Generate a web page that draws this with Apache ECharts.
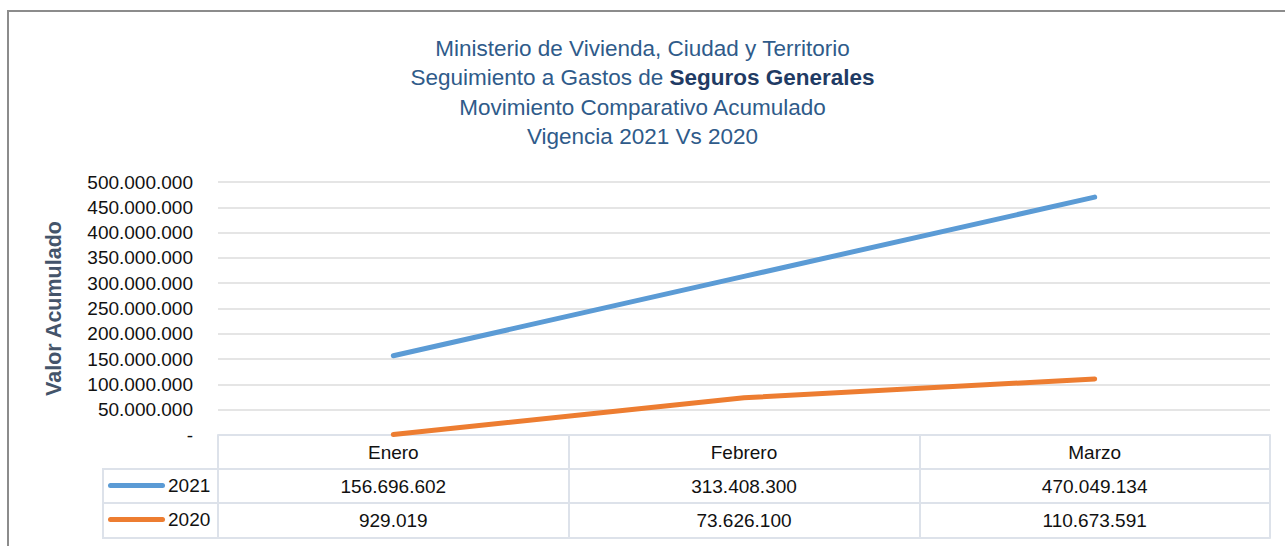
<!DOCTYPE html>
<html><head><meta charset="utf-8">
<script src="https://cdn.jsdelivr.net/npm/echarts@6/dist/echarts.min.js"></script>
<style>html,body{margin:0;padding:0;background:#fff}#c{width:1285px;height:546px}</style>
</head><body><div id="c"></div>
<script>
const months = ['Enero', 'Febrero', 'Marzo'];
const values2021 = [156696602, 313408300, 470049134];
const values2020 = [929019, 73626100, 110673591];
const seriesNames = ['2021', '2020'];
const yTicks = { min: 0, max: 500000000, interval: 50000000 };

function fmt(v) {
  if (v === 0) return '-';
  return String(Math.round(v)).replace(/\B(?=(\d{3})+(?!\d))/g, '.');
}

const TABLE_LINE = '#dde2ea';
const tableFont = { fontFamily: 'Liberation Sans', fontSize: 19, color: '#111' };

const chart = echarts.init(document.getElementById('c'), null, { renderer: 'svg' });
const baseX = { type: 'category', data: months, position: 'bottom', gridIndex: 0, boundaryGap: true };
chart.setOption({
  animation: false,
  backgroundColor: '#fff',
  title: {
    left: 'center', top: 29,
    text: '{a|Ministerio de Vivienda, Ciudad y Territorio}\n{a|Seguimiento a Gastos de }{b|Seguros Generales}\n{a|Movimiento Comparativo Acumulado}\n{a|Vigencia 2021 Vs 2020}',
    textStyle: {
      fontWeight: 'normal',
      rich: {
        a: { fontFamily: 'Liberation Sans', fontSize: 22.5, fontWeight: 'normal', color: '#2f5b8a', lineHeight: 29.3 },
        b: { fontFamily: 'Liberation Sans', fontSize: 22.5, fontWeight: 'bold', color: '#1f3b64', lineHeight: 29.3 }
      }
    }
  },
  legend: {
    orient: 'vertical', left: 108, top: 476, padding: 0,
    itemWidth: 57, itemHeight: 22, itemGap: 15,
    icon: 'path://M2.5,0 L54.5,0 A2.5,2.5 0 0 1 54.5,5 L2.5,5 A2.5,2.5 0 0 1 2.5,0 Z',
    textStyle: { fontFamily: 'Liberation Sans', fontSize: 19, color: '#111', padding: [0, 0, 0, -2] },
    data: seriesNames
  },
  grid: { left: 218, right: 15, top: 182, bottom: 111, containLabel: false },
  xAxis: [
    Object.assign({}, baseX, {
      axisLine: { show: true, lineStyle: { color: TABLE_LINE, width: 2 } },
      axisTick: { show: true, length: 103, interval: 0, lineStyle: { color: TABLE_LINE, width: 2 } },
      axisLabel: Object.assign({ margin: 17, verticalAlign: 'middle', interval: 0 }, tableFont),
      splitLine: { show: false }
    }),
    Object.assign({}, baseX, {
      offset: 34,
      axisLine: { show: true, lineStyle: { color: TABLE_LINE, width: 2 } },
      axisTick: { show: false },
      axisLabel: Object.assign({ margin: 17, verticalAlign: 'middle', interval: 0,
        formatter: (v, i) => fmt(values2021[i]) }, tableFont)
    }),
    Object.assign({}, baseX, {
      offset: 68,
      axisLine: { show: true, lineStyle: { color: TABLE_LINE, width: 2 } },
      axisTick: { show: false },
      axisLabel: Object.assign({ margin: 17, verticalAlign: 'middle', interval: 0,
        formatter: (v, i) => fmt(values2020[i]) }, tableFont)
    }),
    Object.assign({}, baseX, {
      offset: 103,
      axisLine: { show: true, lineStyle: { color: TABLE_LINE, width: 2 } },
      axisTick: { show: false },
      axisLabel: { show: false }
    })
  ],
  yAxis: {
    type: 'value', min: yTicks.min, max: yTicks.max, interval: yTicks.interval,
    name: 'Valor Acumulado', nameLocation: 'middle', nameGap: 153, nameRotate: 90,
    nameTextStyle: { fontFamily: 'Liberation Sans', fontSize: 21.5, fontWeight: 'bold', color: '#44546a' },
    axisLine: { show: false }, axisTick: { show: false },
    axisLabel: { margin: 25, formatter: fmt, fontFamily: 'Liberation Sans', fontSize: 19, color: '#111' },
    splitLine: { show: true, lineStyle: { color: '#dcdcdc', width: 1.5 } }
  },
  series: [
    { name: seriesNames[0], type: 'line', data: values2021, showSymbol: false, symbol: 'none',
      color: '#5b9bd5', lineStyle: { width: 5, color: '#5b9bd5', cap: 'round' }, z: 3 },
    { name: seriesNames[1], type: 'line', data: values2020, showSymbol: false, symbol: 'none',
      color: '#ed7d31', lineStyle: { width: 5, color: '#ed7d31', cap: 'round' }, z: 3 }
  ]
});

// table frame around legend column, positioned from the axis scales
function drawDecor() {
  const c0 = chart.convertToPixel({ xAxisIndex: 0 }, 0);
  const c1 = chart.convertToPixel({ xAxisIndex: 0 }, 1);
  const left = c0 - (c1 - c0) / 2;
  const y0 = chart.convertToPixel({ yAxisIndex: 0 }, 0);
  const r1 = y0 + 34, r2 = y0 + 68, r3 = y0 + 103;
  const colL = 103;
  chart.setOption({
    graphic: [
      { type: 'rect', silent: true, z: -1, shape: { x: 8, y: 11, width: 1400, height: 700 },
        style: { fill: 'none', stroke: '#8c8c8c', lineWidth: 2 } },
      { type: 'polyline', silent: true, shape: { points: [[left, r1], [colL, r1], [colL, r3], [left, r3]] },
        style: { fill: 'none', stroke: TABLE_LINE, lineWidth: 2 } },
      { type: 'line', silent: true, shape: { x1: colL, y1: r2, x2: left, y2: r2 },
        style: { stroke: TABLE_LINE, lineWidth: 2 } }
    ]
  });
}
drawDecor();
</script></body></html>
